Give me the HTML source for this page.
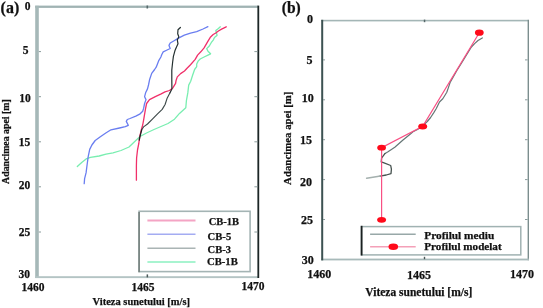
<!DOCTYPE html>
<html><head><meta charset="utf-8"><style>
html,body{margin:0;padding:0;background:#fff;width:543px;height:308px;overflow:hidden}
svg{display:block;will-change:transform}
text{font-family:"Liberation Serif",serif;font-weight:bold;fill:#111;stroke:#111;stroke-width:0.25px}
</style></head><body>
<svg width="543" height="308" viewBox="0 0 543 308">
<rect width="543" height="308" fill="#fff"/>

<!-- ===== Panel (a) ===== -->
<text x="0.6" y="12.6" font-size="16" textLength="18.6" lengthAdjust="spacingAndGlyphs">(a)</text>
<!-- axes -->
<rect x="35.2" y="5.6" width="223" height="2.3" fill="#a0b3b3"/>
<rect x="35.2" y="5.8" width="3.6" height="272.2" fill="#a6b8b8"/>
<rect x="35.2" y="276.2" width="223" height="1.9" fill="#b4c4c4"/>
<rect x="257.4" y="5.6" width="1.8" height="272.4" fill="#1c2626"/>
<!-- y ticks -->
<g stroke="#8a9c9c" stroke-width="1">
<line x1="38.8" y1="51.6" x2="41" y2="51.6"/>
<line x1="38.8" y1="96.7" x2="41" y2="96.7"/>
<line x1="38.8" y1="141.8" x2="41" y2="141.8"/>
<line x1="38.8" y1="186.8" x2="41" y2="186.8"/>
<line x1="38.8" y1="232" x2="41" y2="232"/>
<line x1="254.4" y1="51.6" x2="257.4" y2="51.6"/>
<line x1="254.4" y1="96.7" x2="257.4" y2="96.7"/>
<line x1="254.4" y1="141.8" x2="257.4" y2="141.8"/>
<line x1="254.4" y1="186.8" x2="257.4" y2="186.8"/>
<line x1="254.4" y1="232" x2="257.4" y2="232"/>
</g>
<rect x="146.5" y="5.5" width="1.6" height="3" fill="#56686a"/>
<rect x="146.6" y="274.4" width="1.5" height="3" fill="#4a5858"/>
<g font-size="11.5" text-anchor="end">
<text x="30.4" y="10">0</text>
<text x="28.4" y="54.3">5</text>
<text x="30.8" y="101.5">10</text>
<text x="30.3" y="146">15</text>
<text x="30.3" y="189">20</text>
<text x="30.3" y="235.5">25</text>
<text x="30.1" y="278.2">30</text>
</g>
<g font-size="11.5" text-anchor="middle">
<text x="32.9" y="291">1460</text>
<text x="143" y="290.6">1465</text>
<text x="253.1" y="290">1470</text>
</g>
<text x="92.6" y="304.6" font-size="11" textLength="97.4" lengthAdjust="spacingAndGlyphs">Viteza sunetului [m/s]</text>
<text transform="translate(8.6,183.9) rotate(-90)" font-size="9.9" textLength="84.6" lengthAdjust="spacingAndGlyphs">Adancimea apei [m]</text>

<!-- curves (a) -->
<g fill="none" stroke-width="1.3" stroke-linejoin="round" stroke-linecap="round">
<polyline stroke="#78eeb0" points="220.3,26.8 218.4,28.4 215.8,30.4 216.4,33 217.1,35.3 214.5,37.5 213.2,40.1 211.2,42.7 209.3,46 206.7,48.6 208,51.2 210.6,53.8 208,55.1 204.1,57 200.2,59 198.3,60.9 196.7,64 196.7,66.6 194.6,69.5 192.6,75.3 190.7,81.2 188.7,85.1 187.8,92.9 186.4,100.7 185.8,107.8 179.5,113.4 174.5,119.2 168,123.5 161,126.5 154,129.5 146.5,133 140,136.5 134.5,141.7 129,147 121,150.5 113,152.8 106,154.2 99.2,156 90.4,157.3 86.1,158.9 81.7,162.5 77.3,166.6"/>
<polyline stroke="#6a7ef0" points="207.9,26.7 203,29 196.7,31.7 190.5,33.2 184.3,35.2 178,38.4 174.1,40.7 170.2,43 169,45.4 170.2,48.5 167.1,50 163.2,51.9 161.7,54.7 160.9,57 158.6,60.9 156.2,67.2 154.6,69.5 151.7,73.4 149.7,79.2 148.5,85 147.5,88.9 145.6,92.8 144.6,96.7 146,99.6 144.6,103.5 143.6,108.4 142.7,111.3 139.7,114.2 135.8,116.2 130,118.5 127.3,119.5 126.3,121.4 128.3,125.3 125.3,126.7 119.5,128 111,129.8 105.8,133 100,137 95.2,140.5 91.9,145 89.7,149.4 88.2,156.7 87.2,164 86.1,172.7 84.6,178.6 84.2,183.7"/>
<polyline stroke="#f0306a" points="226.2,26.8 221.6,29.1 218.4,31 215.8,33 213.2,34.5 210.6,36.9 208.6,40.1 206.7,43.4 204.1,47.9 200.8,51.8 197.6,55.1 195.2,59.4 190.5,64.8 186.8,68.5 184.5,71 180.6,73.6 177.3,76.9 176,80.8 175.6,83.4 172.8,87.9 169.5,90.5 165,91.8 161.2,93.8 155.3,96.7 149.5,99.6 146.6,103.5 145.6,108.4 144.6,114.2 143.6,120.1 142.7,125 141.3,129.8 139.7,136.7 138.8,143.5 137.5,150 136.6,158 136.4,165.5 136.4,180.2"/>
<polyline stroke="#243030" stroke-width="1.2" points="180.4,27.5 178,29.8 177.7,33.7 178.8,36.8 177.3,39.9 178,43.8 176.5,46.9 174.9,50.8 173.4,56.3 172.6,62.5 171.8,70 171.8,79.2 171.9,88.9 170,92.8"/>
<polyline stroke="#3e4a4a" stroke-width="1.15" points="170,92.8 167,98.6 165.1,104.5 162.2,109.4 157.3,114.2 152.4,119.1 147.5,124 143.6,126.9 141.7,129.8"/>
<polyline stroke="#1c2424" stroke-width="1.3" points="141.7,129.8 140.7,133.7 139.7,137.6 139.3,140"/>
</g>

<!-- legend (a) -->
<rect x="139.1" y="211.3" width="111" height="60.3" fill="#fff" stroke="#a4b4b4" stroke-width="1.6"/>
<rect x="138.3" y="212" width="1.6" height="60.2" fill="#76827f"/>
<g stroke-width="2">
<line x1="147.4" y1="220.6" x2="195.5" y2="220.6" stroke="#f4a4c4"/>
<line x1="147.4" y1="234.2" x2="195.5" y2="234.2" stroke="#a4acf2" stroke-width="1.6"/>
<line x1="147.4" y1="248.3" x2="195.5" y2="248.3" stroke="#aab4b4" stroke-width="1.6"/>
<line x1="147.4" y1="262" x2="195.5" y2="262" stroke="#a8f4d0"/>
</g>
<g font-size="11">
<text x="208.7" y="224.8" textLength="30.4" lengthAdjust="spacingAndGlyphs">CB-1B</text>
<text x="207.6" y="239.8" textLength="23.6" lengthAdjust="spacingAndGlyphs">CB-5</text>
<text x="207.6" y="252.7" textLength="23.4" lengthAdjust="spacingAndGlyphs">CB-3</text>
<text x="207" y="265.4" textLength="30.8" lengthAdjust="spacingAndGlyphs">CB-1B</text>
</g>

<!-- ===== Panel (b) ===== -->
<text x="281.8" y="12.7" font-size="16" textLength="19" lengthAdjust="spacingAndGlyphs">(b)</text>
<rect x="321.2" y="19.8" width="207.6" height="1.6" fill="#a4b6b6"/>
<rect x="527.6" y="19.8" width="1.4" height="240.4" fill="#7c8e8e"/>
<rect x="321.2" y="258.6" width="207.8" height="1.8" fill="#a8baba"/>
<rect x="321.2" y="19.8" width="2" height="240.6" fill="#3c5252"/>
<g stroke="#8a9c9c" stroke-width="1">
<line x1="323" y1="59.9" x2="325" y2="59.9"/>
<line x1="323" y1="99.8" x2="325" y2="99.8"/>
<line x1="323" y1="139.7" x2="325" y2="139.7"/>
<line x1="323" y1="179.6" x2="325" y2="179.6"/>
<line x1="323" y1="219.5" x2="325" y2="219.5"/>
<line x1="525" y1="59.9" x2="527.6" y2="59.9"/>
<line x1="525" y1="99.8" x2="527.6" y2="99.8"/>
<line x1="525" y1="139.7" x2="527.6" y2="139.7"/>
<line x1="525" y1="179.6" x2="527.6" y2="179.6"/>
<line x1="525" y1="219.5" x2="527.6" y2="219.5"/>
</g>
<rect x="423.8" y="19.6" width="1.5" height="2.6" fill="#56686a"/>
<rect x="423.8" y="256.8" width="1.4" height="2.4" fill="#4a5858"/>
<g font-size="12" text-anchor="end">
<text x="313" y="23.1">0</text>
<text x="312.4" y="63.6">5</text>
<text x="313.7" y="102.3">10</text>
<text x="311.9" y="143.8">15</text>
<text x="312" y="185.8">20</text>
<text x="313.1" y="224">25</text>
<text x="313.7" y="264">30</text>
</g>
<g font-size="12" text-anchor="middle">
<text x="319.2" y="278">1460</text>
<text x="419" y="278.6">1465</text>
<text x="522" y="278">1470</text>
</g>
<text x="365.3" y="296" font-size="12" textLength="107" lengthAdjust="spacingAndGlyphs">Viteza sunetului [m/s]</text>
<text transform="translate(291.3,184.9) rotate(-90)" font-size="11.3" textLength="93.3" lengthAdjust="spacingAndGlyphs">Adancimea apei [m]</text>

<!-- curves (b) -->
<g fill="none" stroke-linejoin="round" stroke-linecap="round">
<polyline stroke="#667676" stroke-width="1.2" points="482.3,37.9 478,40.5 474.6,43.6 471.4,47 466.5,55 461.6,63 456.6,71 452.4,78.4 450.1,82.5 448.5,87.4 446.8,92.3 442.8,98.8 439.5,102 437.9,105.3 436.3,108.5 433.8,112.6 430.6,117.5 427.3,121.5 423.5,125 420.5,127.5 417.5,129.5 413,131.8 409.5,134.7 406.1,137.5 402.7,140.3 398.2,144.3 394.8,147.2 391.4,149.4 388,151.7 385.1,153.4"/>
<polyline stroke="#46524f" stroke-width="1.3" points="385.1,153.4 383.4,155.7 381.6,158 381.2,161.9 383.4,162.6 390.7,165.5 391.4,169.2 391,173.6 386.3,175 380,176.1"/>
<polyline stroke="#a4b0ae" stroke-width="1.5" points="380,176.1 377.5,176.5 366.6,178.2"/>
</g>
<polyline fill="none" stroke="#f85084" stroke-width="1.2" points="479.3,32.7 422.7,126.4 381.6,147.7 381.6,219.8"/>
<g fill="#ff0a1a">
<ellipse cx="479.3" cy="32.7" rx="4.4" ry="3.1"/>
<ellipse cx="422.7" cy="126.4" rx="4.5" ry="3"/>
<ellipse cx="381.6" cy="147.7" rx="4.4" ry="2.9"/>
<ellipse cx="381.6" cy="219.8" rx="4.5" ry="2.9"/>
</g>

<!-- legend (b) -->
<rect x="361.5" y="226.6" width="159.3" height="28.3" fill="#fff" stroke="#a0b2b2" stroke-width="1.5"/>
<rect x="360.7" y="225.8" width="1.8" height="29.7" fill="#1a2020"/>
<line x1="370.1" y1="234.2" x2="415.7" y2="234.2" stroke="#98a8a8" stroke-width="1.4"/>
<line x1="370.1" y1="246.7" x2="415.7" y2="246.7" stroke="#f4a0b8" stroke-width="1.4"/>
<ellipse cx="393.3" cy="246.7" rx="4.8" ry="3.3" fill="#ff0a1a"/>
<g font-size="11">
<text x="424.3" y="238.6" textLength="70" lengthAdjust="spacingAndGlyphs">Profilul mediu</text>
<text x="424.3" y="250.3" textLength="77.3" lengthAdjust="spacingAndGlyphs">Profilul modelat</text>
</g>
</svg>
</body></html>
